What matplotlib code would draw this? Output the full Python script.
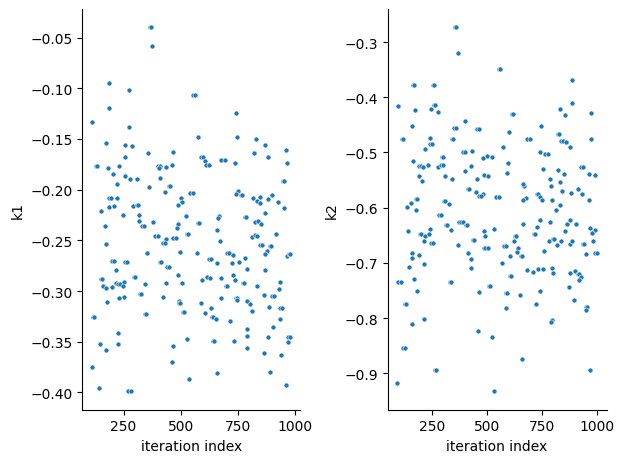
import matplotlib.pyplot as plt
import numpy as np
from matplotlib.ticker import MultipleLocator

# iteration index / k1 values (left panel)
iter_k1 = [
    365, 370, 375, 184, 272, 555, 560, 187, 741, 113, 274, 574, 744, 828, 175, 258, 285, 868, 960, 358,
    466, 819, 254, 590, 597, 881,
    676, 691, 604, 612, 622, 735, 128, 135, 180, 228, 202, 255, 277, 307, 400, 407, 404, 435, 460, 409,
    219, 363, 448, 454, 431, 538, 553, 965, 945, 951, 750, 741, 762, 769, 816, 845, 900, 832, 845, 881,
    923, 950, 868, 780, 785, 826, 835, 850, 809, 823, 834, 916, 187, 194, 222, 153, 188, 210, 246, 290,
    308, 313, 319, 316, 330, 338, 378, 168, 175, 500, 507, 488, 524, 487, 484, 575, 581, 668, 662, 660,
    673, 385, 399, 435, 422, 429, 467, 479, 525, 532, 352, 497, 571, 200, 206, 258, 265, 215, 408, 415,
    440, 447, 624, 631, 701, 710, 728, 723, 754, 779, 660, 788, 848, 854, 889, 895, 876, 869, 966, 972,
    978, 868, 151, 157, 162, 175, 200, 215, 226, 232, 250, 247, 294, 300, 343, 320, 327, 252, 228, 435,
    488, 504, 422, 594, 613, 626, 676, 697, 703, 728, 735, 770, 776, 834, 934, 928, 863, 900, 907, 740,
    747,
    177, 493, 490, 496, 588, 606, 632, 634, 640, 654, 716, 745, 790, 804, 812, 885, 935, 941, 934, 508,
    515, 343, 349, 115, 122, 676, 791, 791, 791, 901, 881, 224, 225, 147, 175, 113, 143, 270, 282, 465,
    460, 526, 537, 641, 647, 657, 731, 862, 888, 937, 969, 975, 970, 959,
]
k1 = [
    -0.040, -0.040, -0.058, -0.095, -0.102, -0.107, -0.107, -0.1195, -0.1244, -0.1336, -0.138, -0.148, -0.148, -0.150, -0.154, -0.156, -0.157, -0.156, -0.161, -0.164,
    -0.163, -0.164, -0.168, -0.168, -0.168, -0.168,
    -0.1706, -0.1706, -0.172, -0.1755, -0.1755, -0.174, -0.1768, -0.1768, -0.1785, -0.1768, -0.1844, -0.1867, -0.1893, -0.1893, -0.1768, -0.1768, -0.1788, -0.178, -0.1755, -0.1886,
    -0.1942, -0.1975, -0.1965, -0.1965, -0.2024, -0.2034, -0.2034, -0.174, -0.191, -0.191, -0.2014, -0.2044, -0.2054, -0.2054, -0.2083, -0.2073, -0.2054, -0.2113, -0.2132, -0.2093,
    -0.2122, -0.2181, -0.223, -0.227, -0.227, -0.232, -0.2313, -0.234, -0.2467, -0.245, -0.2457, -0.2437, -0.2083, -0.2083, -0.2083, -0.221, -0.2172, -0.2162, -0.225, -0.2162,
    -0.2152, -0.2152, -0.225, -0.231, -0.2358, -0.2358, -0.232, -0.2358, -0.2535, -0.2083, -0.2122, -0.2152, -0.226, -0.2339, -0.2378, -0.2329, -0.2329, -0.226, -0.228, -0.2398,
    -0.2506, -0.2457, -0.2457, -0.2483, -0.2526, -0.2526, -0.2476, -0.2476, -0.2437, -0.2437, -0.2624, -0.2614, -0.2624, -0.2703, -0.2703, -0.2712, -0.2712, -0.2791, -0.2712, -0.2712,
    -0.2761, -0.2761, -0.268, -0.268, -0.2624, -0.2624, -0.2644, -0.2722, -0.2712, -0.2673, -0.2722, -0.2781, -0.2545, -0.2545, -0.2555, -0.2555, -0.2604, -0.2634, -0.2653, -0.2634,
    -0.2634, -0.2791, -0.288, -0.288, -0.2948, -0.2968, -0.2958, -0.2919, -0.2929, -0.2929, -0.2909, -0.2948, -0.286, -0.286, -0.2929, -0.3027, -0.3027, -0.3056, -0.307, -0.2919,
    -0.284, -0.2919, -0.306, -0.289, -0.286, -0.287, -0.2869, -0.2948, -0.2948, -0.284, -0.289, -0.2919, -0.2919, -0.2948, -0.2909, -0.2978, -0.304, -0.3047, -0.3047, -0.307,
    -0.307,
    -0.3105, -0.3096, -0.3122, -0.3122, -0.3122, -0.322, -0.3164, -0.326, -0.326, -0.328, -0.3292, -0.3086, -0.3096, -0.3132, -0.3194, -0.3155, -0.3171, -0.3171, -0.3273, -0.3204,
    -0.3204, -0.323, -0.323, -0.3253, -0.3253, -0.3066, -0.3378, -0.344, -0.3558, -0.3351, -0.345, -0.341, -0.3525, -0.3525, -0.3584, -0.3745, -0.3958, -0.399, -0.399, -0.3538,
    -0.3695, -0.3476, -0.387, -0.3489, -0.3489, -0.3804, -0.3489, -0.3607, -0.3794, -0.3627, -0.345, -0.345, -0.3499, -0.393,
]

# iteration index / k2 values (right panel)
iter_k2 = [
    354, 360, 367, 553, 561, 888, 162, 168, 255, 261, 888, 97, 171, 244, 259, 265, 276, 613, 619, 834,
    856, 974, 157, 351, 357, 399, 456, 462, 600, 747, 821, 827, 113, 119, 239, 242, 248, 341, 347, 216,
    680, 695, 838, 844, 858, 573, 879, 974, 392, 398, 431, 296, 302, 498, 481, 523, 742, 763, 779,
    163, 192, 198, 207, 233, 277, 293, 299, 189, 203, 308, 343, 399, 425, 456, 486, 504, 596, 591, 756,
    788, 824, 850, 832, 791, 928, 937, 962, 992, 412, 418, 451, 480, 465, 471, 543, 555, 670, 664, 677,
    664, 727, 733, 742, 751, 841, 882, 913, 930, 965, 797, 834, 815, 175, 181, 155, 136, 175, 303, 309,
    329, 284, 290, 372, 381, 390, 405, 411, 312, 318, 335, 239, 142, 195, 201, 218, 235, 212, 247, 253,
    370, 436, 442, 485, 492, 530, 486, 492, 504, 413, 428, 427, 161, 161, 192, 212, 146, 166, 97, 108,
    184, 331, 337, 463, 509, 515, 568, 579, 585, 605, 623, 625, 631, 640, 637, 655, 661, 663, 605, 611,
    587, 593, 649, 680, 709, 733, 754, 739, 712, 718, 727, 741, 788, 759, 783, 799, 805, 820, 838, 856,
    863, 875, 905, 875, 888, 936, 942, 948, 966, 989, 978, 984, 992, 998, 797, 802, 898, 878, 914, 920,
    927, 917, 872,
    128, 134, 161, 212, 119, 125, 93, 264, 270, 588, 724, 797, 792, 896, 948, 954, 949, 459, 523, 660,
    532, 969,
]
k2 = [
    -0.2735, -0.2735, -0.3205, -0.3494, -0.3494, -0.3687, -0.3783, -0.3783, -0.3783, -0.3783, -0.4109, -0.4163, -0.4235, -0.4211, -0.4145, -0.4145, -0.4271, -0.4307, -0.4307, -0.4217,
    -0.4326, -0.4289, -0.4524, -0.456, -0.456, -0.4434, -0.4578, -0.4578, -0.4633, -0.4524, -0.4669, -0.4669, -0.4759, -0.4759, -0.4741, -0.485, -0.485, -0.4759, -0.4759, -0.494,
    -0.4759, -0.4759, -0.4795, -0.4795, -0.482, -0.4904, -0.4904, -0.4759, -0.4994, -0.4994, -0.4976, -0.5078, -0.5078, -0.506, -0.5097, -0.5085, -0.4994, -0.503, -0.503,
    -0.5157, -0.5247, -0.5247, -0.5265, -0.5229, -0.5265, -0.5229, -0.5229, -0.5428, -0.5518, -0.5428, -0.5482, -0.5338, -0.5247, -0.5482, -0.541, -0.5428, -0.5193, -0.5374, -0.5301,
    -0.5482, -0.532, -0.5392, -0.5536, -0.5609, -0.5265, -0.5265, -0.5392, -0.541, -0.5663, -0.5663, -0.5717, -0.5753, -0.5789, -0.5789, -0.5807, -0.5807, -0.5609, -0.5567, -0.5825,
    -0.5862, -0.5753, -0.5753, -0.5807, -0.5862, -0.5699, -0.5735, -0.5663, -0.5753, -0.5862, -0.5862, -0.5952, -0.6042, -0.5844, -0.5844, -0.5916, -0.5988, -0.6042, -0.588, -0.588,
    -0.5934, -0.6133, -0.6133, -0.6253, -0.6253, -0.6253, -0.6314, -0.6314, -0.6314, -0.6314, -0.6404, -0.6386, -0.6422, -0.6482, -0.6482, -0.6512, -0.6476, -0.6603, -0.6639, -0.6639,
    -0.6675, -0.6585, -0.6585, -0.6422, -0.6512, -0.6386, -0.673, -0.673, -0.673, -0.682, -0.6928, -0.7091, -0.682, -0.691, -0.6856, -0.7018, -0.7073, -0.729, -0.7344, -0.7344,
    -0.7506, -0.7344, -0.7344, -0.7524, -0.7416, -0.7416, -0.700, -0.6693, -0.6693, -0.6874, -0.6603, -0.6512, -0.6512, -0.673, -0.6802, -0.6874, -0.6874, -0.6295, -0.7235, -0.7235,
    -0.7542, -0.7542, -0.759, -0.7127, -0.7163, -0.7109, -0.7109, -0.7506, -0.6476, -0.6476, -0.635, -0.6223, -0.6259, -0.6783, -0.6603, -0.6567, -0.6567, -0.6675, -0.6603, -0.6422,
    -0.6295, -0.6223, -0.6295, -0.6657, -0.6603, -0.6657, -0.6657, -0.6838, -0.6368, -0.6404, -0.6458, -0.6603, -0.682, -0.682, -0.7091, -0.7181, -0.7145, -0.7181, -0.7199, -0.7199,
    -0.7253, -0.7307, -0.7434,
    -0.7741, -0.7741, -0.8102, -0.8012, -0.8536, -0.8536, -0.9169, -0.8934, -0.8934, -0.7813, -0.7741, -0.803, -0.8066, -0.7669, -0.7795, -0.7795, -0.785, -0.8229, -0.8337, -0.8735,
    -0.933, -0.8934,
]

fig = plt.figure(figsize=(6.24, 4.64), dpi=100)
ax1 = fig.add_axes([0.132, 0.115, 0.349, 0.863])
ax2 = fig.add_axes([0.621, 0.115, 0.351, 0.863])

for ax, xs, ys, name in [(ax1, iter_k1, k1, "k1"), (ax2, iter_k2, k2, "k2")]:
    ax.scatter(np.array(xs), np.array(ys), s=13, color="#1f77b4", edgecolor="white", linewidth=0.4)
    ax.xaxis.set_major_locator(MultipleLocator(250))
    ax.set_xlabel("iteration index")
    ax.set_ylabel(name)
    ax.spines["top"].set_visible(False)
    ax.spines["right"].set_visible(False)

fig.savefig("out.png")
